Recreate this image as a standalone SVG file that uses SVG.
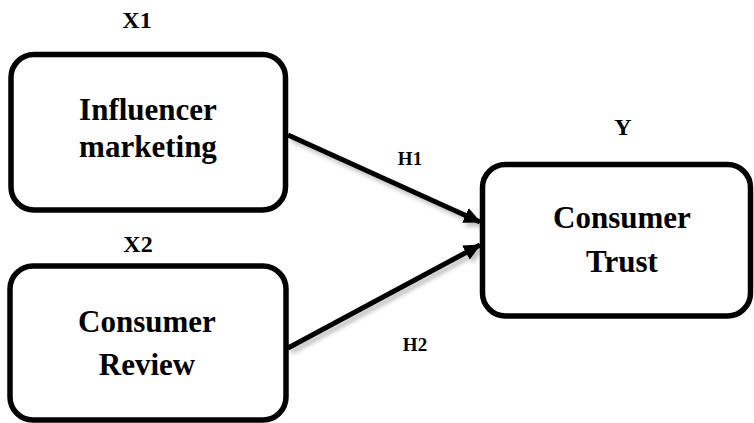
<svg xmlns="http://www.w3.org/2000/svg" width="754" height="423" viewBox="0 0 754 423">
<style>
.box{fill:#fff;stroke:#000;stroke-width:5.5}
.t{font-family:"Liberation Serif","Times New Roman",serif;font-weight:bold;fill:#000;text-anchor:middle}
.big{font-size:31px}
.lab{font-size:24px}
.h{font-size:19px}
.edge{stroke:#000;stroke-width:5;fill:none}
</style>
<defs>
<marker id="arr" markerUnits="userSpaceOnUse" markerWidth="18" markerHeight="16" refX="16" refY="8" orient="auto">
<path d="M0,0 L17,8 L0,16 Z" fill="#000"/>
</marker>
<filter id="sh" x="-10%" y="-20%" width="130%" height="150%">
<feGaussianBlur in="SourceAlpha" stdDeviation="2"/>
<feOffset dx="3" dy="4" result="b"/>
<feComponentTransfer><feFuncA type="linear" slope="0.25"/></feComponentTransfer>
<feMerge><feMergeNode/><feMergeNode in="SourceGraphic"/></feMerge>
</filter>
</defs>
<g id="connectors" filter="url(#sh)">
<line class="edge" x1="288" y1="135" x2="480" y2="222" marker-end="url(#arr)"/>
<line class="edge" x1="288" y1="348" x2="480" y2="245" marker-end="url(#arr)"/>
</g>
<g id="x1">
<text class="t lab" x="137" y="28">X1</text>
<rect class="box" x="11" y="54.5" width="274.5" height="155.5" rx="23"/>
<text class="t big" x="148" y="120">Influencer</text>
<text class="t big" x="148" y="157">marketing</text>
</g>
<g id="x2">
<text class="t lab" x="138" y="252">X2</text>
<rect class="box" x="10" y="266" width="276" height="154" rx="23"/>
<text class="t big" x="147" y="332">Consumer</text>
<text class="t big" x="147" y="375">Review</text>
</g>
<g id="y">
<text class="t lab" x="623" y="135">Y</text>
<rect class="box" x="482.5" y="164.5" width="268" height="151.5" rx="23"/>
<text class="t big" x="622" y="228">Consumer</text>
<text class="t big" x="622" y="272">Trust</text>
</g>
<g id="labels">
<text class="t h" x="410" y="165">H1</text>
<text class="t h" x="415" y="351">H2</text>
</g>
</svg>
